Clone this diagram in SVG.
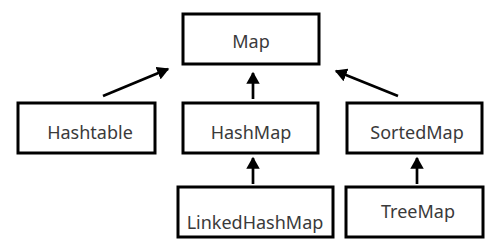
<svg xmlns="http://www.w3.org/2000/svg" width="497" height="248" viewBox="0 0 497 248">
<style>
.box{fill:#fff;stroke:#000;stroke-width:3}
.lbl{font-family:"Noto Sans","Open Sans",sans-serif;font-size:18px;fill:#3a3a3a;text-anchor:middle}
.conn{stroke:#000;stroke-width:2.7;fill:none;marker-end:url(#ah)}
</style>
<defs>
<marker id="ah" markerWidth="5" markerHeight="5" refX="4" refY="2.5" orient="auto" markerUnits="strokeWidth">
<path d="M0,0 L4.5,2.5 L0,5 Z" fill="#000"/>
</marker>
</defs>
<rect width="497" height="248" fill="#fff"/>
<g id="connectors">
<line class="conn" x1="103" y1="96" x2="168" y2="69"/>
<line class="conn" x1="253" y1="99" x2="253" y2="73"/>
<line class="conn" x1="398" y1="96" x2="336" y2="71"/>
<line class="conn" x1="253" y1="184" x2="253" y2="158"/>
<line class="conn" x1="417" y1="184" x2="417" y2="158"/>
</g>
<g id="map"><rect class="box" x="183" y="14" width="136" height="50"/><text class="lbl" x="251" y="48">Map</text></g>
<g id="hashtable"><rect class="box" x="18" y="103" width="137" height="50"/><text class="lbl" x="90" y="139">Hashtable</text></g>
<g id="hashmap"><rect class="box" x="183" y="103" width="135" height="50"/><text class="lbl" x="251" y="139">HashMap</text></g>
<g id="sortedmap"><rect class="box" x="347" y="103" width="135" height="50"/><text class="lbl" x="417" y="139">SortedMap</text></g>
<g id="linkedhashmap"><rect class="box" x="178" y="187" width="155" height="50"/><text class="lbl" x="255" y="229">LinkedHashMap</text></g>
<g id="treemap"><rect class="box" x="346" y="187" width="137" height="50"/><text class="lbl" x="418" y="218">TreeMap</text></g>
</svg>
